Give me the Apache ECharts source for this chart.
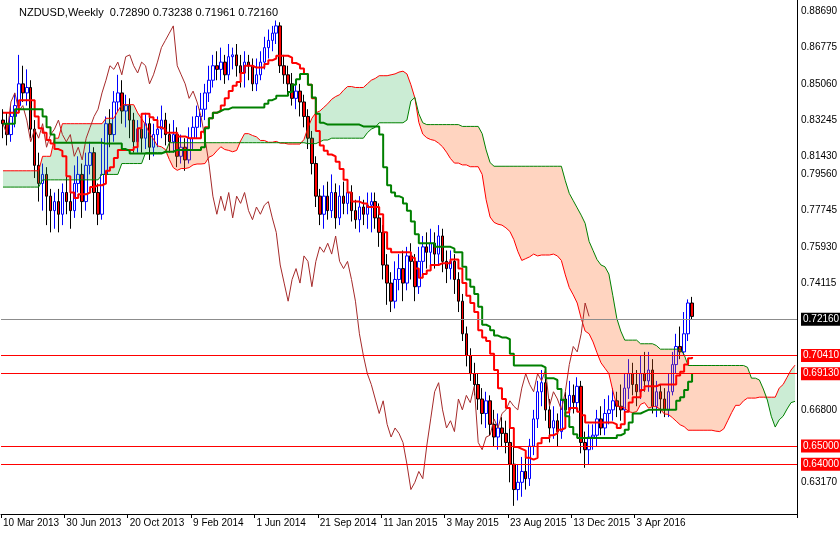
<!DOCTYPE html>
<html><head><meta charset="utf-8">
<script src="https://cdn.jsdelivr.net/npm/echarts@6/dist/echarts.min.js"></script>
<style>html,body{margin:0;padding:0;background:#fff}#c{width:840px;height:533px}</style>
</head><body><div id="c"></div>
<script>
const startDate = '2013-03-10';
const futureBars = 26;
const closes = [0.828,0.822,0.832,0.838,0.850, 0.845,0.848,0.825,0.805,0.795, 0.800,0.788,0.780,0.785,0.778, 0.790,0.785,0.780,0.795,0.800,
0.785,0.805,0.812,0.790,0.778, 0.800,0.828,0.822,0.840,0.845, 0.835,0.838,0.830,0.818,0.825, 0.820,0.828,0.815,0.822,0.825,
0.830,0.822,0.818,0.822,0.810, 0.815,0.808,0.820,0.826,0.832, 0.836,0.845,0.852,0.860,0.858, 0.862,0.855,0.865,0.866,0.860,
0.856,0.862,0.860,0.850,0.855, 0.862,0.870,0.874,0.878,0.882, 0.860,0.855,0.850,0.842,0.846, 0.840,0.832,0.820,0.806,0.788,
0.778,0.788,0.780,0.790,0.776, 0.788,0.784,0.790,0.780,0.775, 0.782,0.778,0.783,0.785,0.776, 0.768,0.750,0.740,0.730,0.742,
0.748,0.740,0.755,0.752,0.738, 0.752,0.760,0.757,0.762,0.756, 0.766,0.752,0.748,0.752,0.742, 0.730,0.712,0.700,0.690,0.684,
0.676,0.668,0.675,0.662,0.655, 0.660,0.657,0.652,0.640,0.626, 0.630,0.636,0.632,0.650,0.665, 0.680,0.685,0.670,0.660,0.664,
0.658,0.676,0.670,0.678,0.674, 0.683,0.652,0.648,0.655,0.656, 0.665,0.660,0.668,0.670,0.675, 0.672,0.670,0.682,0.690,0.684,
0.680,0.690,0.686,0.692,0.672, 0.680,0.676,0.670,0.680,0.695, 0.705,0.702,0.712,0.729,0.7216];
const firstOpen = 0.830;
const highs = [0.836,0.834,0.838,0.845,0.866, 0.860,0.858,0.852,0.830,0.812, 0.806,0.804,0.792,0.790,0.792, 0.795,0.800,0.792,0.805,0.810,
0.806,0.812,0.818,0.815,0.795, 0.820,0.832,0.836,0.846,0.855, 0.852,0.844,0.842,0.834,0.830, 0.830,0.834,0.832,0.828,0.832,
0.838,0.834,0.828,0.830,0.826, 0.822,0.820,0.826,0.832,0.838, 0.845,0.850,0.860,0.866,0.868, 0.870,0.866,0.872,0.870,0.872,
0.866,0.868,0.866,0.864,0.864, 0.868,0.876,0.880,0.882,0.885, 0.884,0.866,0.860,0.856,0.852, 0.850,0.844,0.836,0.824,0.810,
0.792,0.794,0.796,0.800,0.795, 0.794,0.796,0.796,0.794,0.786, 0.788,0.786,0.790,0.790,0.790, 0.784,0.772,0.756,0.746,0.752,
0.756,0.758,0.760,0.762,0.756, 0.760,0.766,0.768,0.770,0.768, 0.772,0.770,0.758,0.758,0.756, 0.746,0.734,0.716,0.704,0.696,
0.690,0.682,0.680,0.678,0.670, 0.668,0.666,0.664,0.660,0.650, 0.640,0.644,0.646,0.654,0.670, 0.686,0.692,0.688,0.676,0.672,
0.668,0.682,0.680,0.686,0.684, 0.688,0.686,0.658,0.662,0.662, 0.670,0.672,0.676,0.678,0.682, 0.680,0.684,0.690,0.698,0.696,
0.692,0.700,0.702,0.702,0.698, 0.686,0.684,0.682,0.690,0.702, 0.712,0.716,0.724,0.731,0.73238];
const lows = [0.820,0.816,0.818,0.826,0.835, 0.840,0.838,0.820,0.798,0.785, 0.780,0.772,0.768,0.770,0.768, 0.772,0.778,0.770,0.776,0.790,
0.776,0.780,0.800,0.778,0.772, 0.775,0.796,0.815,0.818,0.835, 0.828,0.826,0.820,0.812,0.812, 0.812,0.814,0.808,0.810,0.815,
0.820,0.816,0.812,0.812,0.804, 0.806,0.802,0.806,0.814,0.820, 0.826,0.830,0.840,0.848,0.852, 0.852,0.850,0.852,0.858,0.854,
0.848,0.848,0.852,0.846,0.846, 0.852,0.858,0.864,0.868,0.872, 0.856,0.850,0.844,0.838,0.836, 0.832,0.826,0.814,0.800,0.782,
0.772,0.770,0.775,0.776,0.770, 0.772,0.778,0.778,0.774,0.770, 0.768,0.772,0.770,0.768,0.770, 0.760,0.742,0.728,0.724,0.726,
0.736,0.730,0.736,0.742,0.730, 0.734,0.744,0.748,0.750,0.748, 0.750,0.746,0.740,0.742,0.734, 0.724,0.708,0.694,0.686,0.678,
0.670,0.662,0.660,0.656,0.650, 0.648,0.650,0.646,0.630,0.617, 0.620,0.622,0.626,0.628,0.645, 0.660,0.672,0.664,0.652,0.654,
0.650,0.654,0.662,0.664,0.668, 0.670,0.646,0.638,0.640,0.648, 0.650,0.656,0.656,0.662,0.664, 0.666,0.664,0.666,0.676,0.678,
0.672,0.676,0.680,0.680,0.668, 0.666,0.668,0.666,0.666,0.678, 0.690,0.698,0.700,0.708,0.71961];
// indicator values before enough history is on the chart
const tenkanEarly = [0.834,0.834,0.834,0.834,0.841,0.841,0.841,0.841];
const kijunEarly = [0.828,0.828,0.828,0.836,0.836,0.836,0.836,0.836,0.836,0.836,0.832,0.826,0.822,
0.8175,0.8175,0.8175,0.8175,0.8175,0.8175,0.8175,0.8175,0.8175,0.8175,0.8175,0.8175];
const spanAEarly = [0.802,0.802,0.802,0.802,0.802,0.802,0.802,0.802,0.802,0.802,0.810,0.810,0.810,0.820,0.820,
0.828,0.828,0.828,0.828,0.828,0.828,0.828,0.828,0.828,0.828,0.828];
const spanBEarly = [0.793,0.793,0.793,0.793,0.793,0.793,0.793,0.793,0.793,0.793,
0.797,0.797,0.797,0.797,0.797,0.797,0.797,0.797,0.797,0.797,0.797,0.797,0.797,0.797,0.797,
0.800,0.800,0.800,0.800,0.800, 0.806,0.806,0.806,0.806,0.806,0.806, 0.812,0.812,0.812,0.812,0.812,0.812,
0.8175,0.8175,0.8175,0.8175,0.8175,0.8175,0.8175,0.8175,0.8175,0.8175,0.8175,0.8175,0.8175,0.8175,0.8175,0.8175,
0.8175,0.8175,0.8175,0.8175,0.8175,0.8175,0.8175,0.8175,0.8175,0.8175,0.8175,0.8175,0.8175,0.8175,0.8175,0.8175,0.8175,0.8175,0.8175];
const yTicks = [0.88690,0.86775,0.85060,0.83245,0.81430,0.79560,0.77745,0.75930,0.74115,0.68615,0.66800,0.63170,0.61355];
const levels = [{v:0.72160,line:'#8c8c8c',bg:'#000'},{v:0.70410,line:'#ff0000',bg:'#ff0000'},{v:0.69130,line:'#ff0000',bg:'#ff0000'},
{v:0.65000,line:'#ff0000',bg:'#ff0000'},{v:0.64000,line:'#ff0000',bg:'#ff0000'}];
const titleText = 'NZDUSD,Weekly  0.72890 0.73238 0.71961 0.72160';

const N = closes.length, T = N + futureBars;
const mon=['Jan','Feb','Mar','Apr','May','Jun','Jul','Aug','Sep','Oct','Nov','Dec'];
const cats=[]; const d0=new Date(startDate+'T00:00:00Z');
for(let i=0;i<T;i++){const d=new Date(d0.getTime()+i*7*864e5);cats.push(d.getUTCDate()+' '+mon[d.getUTCMonth()]+' '+d.getUTCFullYear());}
const opens = closes.map((c,i)=> i===0?firstOpen:closes[i-1]);
const candle=[]; for(let i=0;i<T;i++) candle.push(i<N?[opens[i],closes[i],lows[i],highs[i]]:'-');
function mid(i,n){let h=-1,l=9;for(let k=i-n+1;k<=i;k++){h=Math.max(h,highs[k]);l=Math.min(l,lows[k]);}return (h+l)/2;}
const tenkan=[],kijun=[];
for(let i=0;i<N;i++){tenkan.push(i<8?tenkanEarly[i]:mid(i,9));kijun.push(i<25?kijunEarly[i]:mid(i,26));}
const spanA=[],spanB=[];
for(let j=0;j<T;j++){const i=j-26;
 spanA.push(i<0?spanAEarly[j]:(tenkan[i]+kijun[i])/2);
 spanB.push(i<51?spanBEarly[j]:mid(i,52));}
const chikou=[];for(let j=0;j<T;j++)chikou.push(j+26<N?closes[j+26]:'-');
const base=spanA.map((a,j)=>Math.min(a,spanB[j]));
const gDiff=spanA.map((a,j)=>a>=spanB[j]?a-spanB[j]:0);
const oDiff=spanA.map((a,j)=>a<spanB[j]?spanB[j]-a:0);

const chart=echarts.init(document.getElementById('c'));
const ff='Liberation Sans';
const ml=[];
yTicks.forEach(v=>ml.push({yAxis:v,lineStyle:{color:'rgba(0,0,0,0)',width:0},label:{formatter:v.toFixed(5),color:'#000'}}));
levels.forEach(l=>ml.push({yAxis:l.v,lineStyle:{color:l.line,width:1,type:'solid'},
 label:{formatter:l.v.toFixed(5),color:'#fff',backgroundColor:l.bg,padding:[2,2,1,2]}}));
chart.setOption({
 animation:false,
 textStyle:{fontFamily:ff},
 title:{text:titleText,left:14,top:2,textStyle:{fontSize:11,fontWeight:'normal',color:'#000',fontFamily:ff}},
 grid:{left:0,right:43,top:0,bottom:19},
 xAxis:{type:'category',data:cats,boundaryGap:true,
  axisLine:{lineStyle:{color:'#000'}},
  axisTick:{show:true,interval:(i)=>i%16===0&&i<=160,lineStyle:{color:'#000'},length:4},
  axisLabel:{interval:(i)=>i%16===0&&i<=160,align:'left',color:'#000',fontSize:10,margin:4},
  splitLine:{show:false}},
 yAxis:{type:'value',position:'right',min:0.6125,max:0.8963,scale:true,
  axisLine:{show:true,lineStyle:{color:'#000'}},axisLabel:{show:false},axisTick:{show:false},splitLine:{show:false}},
 series:[
  {name:'base',type:'line',data:base,stack:'k',symbol:'none',lineStyle:{opacity:0},silent:true},
  {name:'g',type:'line',data:gDiff,stack:'k',symbol:'none',lineStyle:{opacity:0},areaStyle:{color:'rgba(40,175,80,0.35)'}},
  {name:'o',type:'line',data:oDiff,stack:'k',symbol:'none',lineStyle:{opacity:0},areaStyle:{color:'rgba(255,100,30,0.4)'}},
  {name:'spanA',type:'line',data:spanA,symbol:'none',lineStyle:{color:'#ff0000',width:1}},
  {name:'spanB',type:'line',data:spanB,symbol:'none',lineStyle:{color:'#008000',width:1}},
  {name:'chikou',type:'line',data:chikou,symbol:'none',lineStyle:{color:'#a52a2a',width:1}},
  {name:'candles',type:'candlestick',data:candle,barWidth:3,
   itemStyle:{color:'#ffffff',borderColor:'#0000ff',color0:'#ff0000',borderColor0:'#000000',borderWidth:1},
   markLine:{symbol:'none',silent:true,label:{position:'end',fontSize:10,fontFamily:ff,distance:4},data:ml}},
  {name:'tenkan',type:'line',data:tenkan,symbol:'none',step:'end',lineStyle:{color:'#ff0000',width:2}},
  {name:'kijun',type:'line',data:kijun,symbol:'none',step:'end',lineStyle:{color:'#008000',width:2}}
 ]
});
</script></body></html>
